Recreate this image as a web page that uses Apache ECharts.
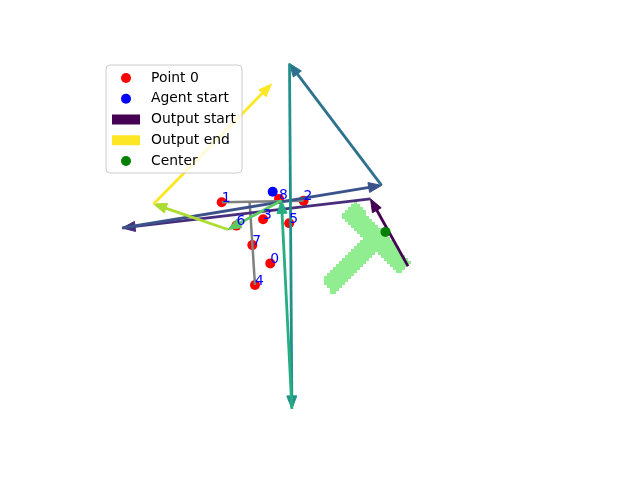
<!DOCTYPE html>
<html><head><meta charset="utf-8">
<script src="https://cdn.jsdelivr.net/npm/echarts@6/dist/echarts.min.js"></script>
<style>html,body{margin:0;padding:0;background:#fff}#c{width:640px;height:480px}</style>
</head><body><div id="c"></div>
<script>
// ---- data (units = mask cells) ----
const pointX = [90.1, 73.9, 101.2, 87.7, 85.0, 96.4, 78.8, 84.1, 93.0];
const pointY = [87.8, 67.4, 66.9, 73.1, 95.0, 74.4, 75.2, 81.7, 66.3];
const pointLabels = ['0', '1', '2', '3', '4', '5', '6', '7', '8'];
const agentStart = [90.9, 63.9];
const centerPoint = [128.5, 77.3];
const pathX = [136.0, 123.5, 40.7, 127.2, 96.5, 97.3, 93.8, 76.0, 51.2, 90.5];
const pathY = [88.7, 66.3, 76.0, 61.8, 21.2, 136.3, 66.8, 76.5, 68.0, 28.0];
const guideBarX = [73.9, 101.2];
const guideBarY = [67.4, 66.9];
const guideStemX = [83.2, 85.0];
const guideStemY = [67.2, 95.0];
// mask rows: [row, firstCol, lastCol]
const maskRows = [
  [67,118,118],[68,117,119],[69,116,120],[70,115,121],[71,114,121],[72,114,122],
  [73,115,123],[74,116,124],[75,117,125],[76,118,126],[77,119,127],[78,120,128],
  [79,121,129],[80,120,130],[81,119,131],[82,118,132],[83,117,132],
  [84,116,124],[84,126,133],[85,115,123],[85,127,134],[86,114,122],[86,128,135],
  [87,113,121],[87,129,136],[88,112,120],[88,130,135],[89,111,119],[89,131,134],
  [90,110,118],[90,132,133],[91,109,117],[92,108,116],[93,108,115],[94,108,114],
  [95,109,113],[96,110,112],[97,110,111]
];
const legendNames = ['Point 0', 'Agent start', 'Output start', 'Output end', 'Center'];

// ---- styles ----
const VIRIDIS = ['#440154','#472d7b','#3b528b','#2c728e','#21918c','#27ad81','#5ec962','#addc30','#fde725'];
const FONT = 'DejaVu Sans';
const HEAD_LEN = 13, HEAD_HALF = 5, ARROW_W = 2.8;

const points = pointX.map((x, i) => [x, pointY[i]]);
const segs = [];
for (let i = 0; i + 1 < pathX.length; i++) segs.push([pathX[i], pathY[i], pathX[i + 1], pathY[i + 1], i]);
const labelData = pointX.map((x, i) => [x, pointY[i], i]);

const chart = echarts.init(document.getElementById('c'), null, {renderer: 'canvas'});
chart.setOption({
  animation: false,
  backgroundColor: '#fff',
  grid: {left: 0, right: 0, top: 0, bottom: 0},
  xAxis: {type: 'value', min: 0, max: 640 / 3, show: false},
  yAxis: {type: 'value', min: 0, max: 160, inverse: true, show: false},
  legend: {
    orient: 'vertical', left: 106, top: 65, z: 10,
    padding: [6, 6, 5, 6], itemGap: 6.75, itemWidth: 28, itemHeight: 10,
    backgroundColor: 'rgba(255,255,255,0.8)', borderColor: '#cccccc', borderWidth: 1, borderRadius: 4,
    selectedMode: false,
    textStyle: {fontFamily: FONT, fontSize: 13.9, color: '#000', lineHeight: 14, padding: [0, 0, 0, 6]},
    data: [
      {name: legendNames[0], icon: 'circle'},
      {name: legendNames[1], icon: 'circle'},
      {name: legendNames[2], icon: 'rect'},
      {name: legendNames[3], icon: 'rect'},
      {name: legendNames[4], icon: 'circle'}
    ]
  },
  series: [
    {
      type: 'custom', name: 'mask', z: 1, silent: true,
      dimensions: ['row', 'start', 'end'],
      encode: {x: [1, 2], y: 0},
      data: maskRows,
      renderItem: function (params, api) {
        const v = api.value(0), a = api.value(1), b = api.value(2);
        const p0 = api.coord([a, v]);
        const p1 = api.coord([b + 1, v + 1]);
        return {type: 'rect', shape: {x: p0[0], y: p0[1], width: p1[0] - p0[0], height: p1[1] - p0[1]},
          style: {fill: '#90ee90'}};
      }
    },
    {type: 'scatter', name: legendNames[0], z: 2, symbol: 'circle', symbolSize: 10,
      itemStyle: {color: '#ff0000', opacity: 1}, data: points},
    {type: 'scatter', name: legendNames[1], z: 2, symbol: 'circle', symbolSize: 10,
      itemStyle: {color: '#0000ff', opacity: 1}, data: [agentStart]},
    {type: 'line', name: 'guide1', z: 3, symbol: 'none', silent: true,
      lineStyle: {color: '#808080', width: 2.5},
      data: guideBarX.map((x, i) => [x, guideBarY[i]])},
    {type: 'line', name: 'guide2', z: 3, symbol: 'none', silent: true,
      lineStyle: {color: '#808080', width: 2.5},
      data: guideStemX.map((x, i) => [x, guideStemY[i]])},
    {
      type: 'custom', name: 'arrows', z: 4, silent: true,
      dimensions: ['x0', 'y0', 'x1', 'y1', 'k'],
      encode: {x: [0, 2], y: [1, 3]},
      data: segs,
      renderItem: function (params, api) {
        const p0 = api.coord([api.value(0), api.value(1)]);
        const p1 = api.coord([api.value(2), api.value(3)]);
        const dx = p1[0] - p0[0], dy = p1[1] - p0[1];
        const len = Math.sqrt(dx * dx + dy * dy);
        const ux = dx / len, uy = dy / len;
        const bx = p1[0] - ux * HEAD_LEN, by = p1[1] - uy * HEAD_LEN;
        const color = VIRIDIS[api.value(4)];
        return {type: 'group', children: [
          {type: 'line', shape: {x1: p0[0], y1: p0[1], x2: bx + ux * 2, y2: by + uy * 2},
            style: {stroke: color, lineWidth: ARROW_W}},
          {type: 'polygon', shape: {points: [[p1[0], p1[1]], [bx - uy * HEAD_HALF, by + ux * HEAD_HALF], [bx + uy * HEAD_HALF, by - ux * HEAD_HALF]]},
            style: {fill: color, stroke: color, lineWidth: 1, lineJoin: 'miter'}}
        ]};
      }
    },
    {type: 'scatter', name: legendNames[4], z: 5, symbol: 'circle', symbolSize: 10,
      itemStyle: {color: '#008000', opacity: 1}, data: [centerPoint]},
    {
      type: 'custom', name: 'labels', z: 6, silent: true,
      dimensions: ['x', 'y', 'i'],
      encode: {x: 0, y: 1},
      data: labelData,
      renderItem: function (params, api) {
        const p = api.coord([api.value(0), api.value(1)]);
        return {type: 'text', x: p[0], y: p[1] + 3,
          style: {text: pointLabels[api.value(2)], fill: '#0000ff', fontFamily: FONT, fontSize: 13.9,
            align: 'left', verticalAlign: 'bottom'}};
      }
    },
    {type: 'scatter', name: legendNames[2], itemStyle: {color: VIRIDIS[0], opacity: 1}, data: []},
    {type: 'scatter', name: legendNames[3], itemStyle: {color: VIRIDIS[VIRIDIS.length - 1], opacity: 1}, data: []}
  ]
});
</script>
</body></html>
